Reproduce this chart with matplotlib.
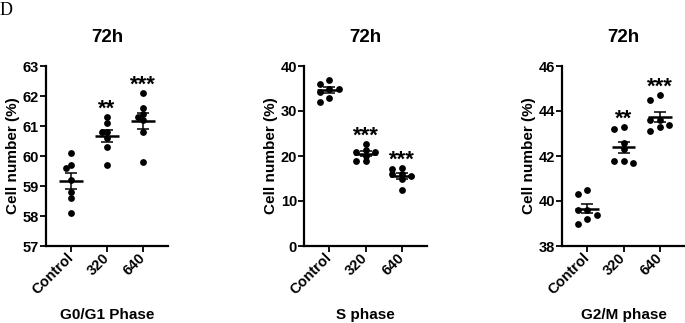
import numpy as np
import matplotlib
matplotlib.use("Agg")
import matplotlib.pyplot as plt

plt.rcParams['font.family'] = ['Liberation Sans', 'DejaVu Sans']

groups = ['Control', '320', '640']
g1_vals = [[60.1, 59.7, 59.6, 59.2, 58.8, 58.6, 58.1],
           [61.3, 61.1, 60.8, 60.8, 60.6, 60.3, 59.7],
           [62.1, 61.6, 61.4, 61.3, 61.2, 60.8, 59.8]]
s_vals = [[36.9, 36.0, 35.0, 35.0, 34.2, 33.0, 32.1],
          [22.6, 21.4, 21.0, 20.8, 20.0, 19.0, 18.8],
          [17.4, 17.1, 16.0, 15.9, 15.5, 14.8, 12.5]]
g2m_vals = [[40.5, 40.3, 39.6, 39.6, 39.4, 39.2, 39.0],
            [43.3, 43.2, 42.6, 42.3, 41.8, 41.8, 41.7],
            [44.7, 44.5, 43.6, 43.6, 43.4, 43.3, 43.1]]
phase_labels = ['G0/G1 Phase', 'S phase', 'G2/M phase']
y_ranges = [(57, 63), (0, 40), (38, 46)]
y_steps = [1, 10, 2]
stars = [['', '**', '***'], ['', '***', '***'], ['', '**', '***']]
title = '72h'

W, H = 685, 323
fig = plt.figure(figsize=(W / 100, H / 100), dpi=100)

# axes boxes in pixels: left, top, width, height
boxes = [(46, 66, 122, 180), (304, 66, 123, 180), (562, 66, 123, 180)]
col_steps = [0.15, 0.26, 0.26]


def swarm(vals, ax, step, dot_px=5.0):
    # greedy column placement, points that would touch move sideways
    y_px = ax.transData.transform(np.column_stack([np.zeros(len(vals)), vals]))[:, 1]
    order = np.argsort(-np.asarray(vals))
    cols = np.zeros(len(vals))
    placed = []
    for i in order:
        for c in [0, -1, 1, -2, 2, -3, 3]:
            if all(not (pc == c and abs(py - y_px[i]) < dot_px) for pc, py in placed):
                cols[i] = c
                placed.append((c, y_px[i]))
                break
    return cols * step


all_vals = [g1_vals, s_vals, g2m_vals]
for k, data in enumerate(all_vals):
    l, t, w, h = boxes[k]
    ax = fig.add_axes([l / W, (H - t - h) / H, w / W, h / H])
    y0, y1 = y_ranges[k]
    ax.set_xlim(-0.7, 2.7)
    ax.set_ylim(y0, y1)
    ax.set_yticks(np.arange(y0, y1 + 0.01, y_steps[k]))
    ax.set_xticks(range(len(groups)))
    ax.set_xticklabels(groups, rotation=45, ha='right', va='center',
                       rotation_mode='anchor', fontsize=10.5, fontweight='bold')
    for lab in ax.get_yticklabels():
        lab.set_fontsize(10.5)
        lab.set_fontweight('bold')
    for sp in ['top', 'right']:
        ax.spines[sp].set_visible(False)
    for sp in ['left', 'bottom']:
        ax.spines[sp].set_linewidth(1.6)
    ax.tick_params(axis='both', length=4, width=1.3, pad=1, color='black')
    ax.tick_params(axis='x', pad=3)

    for i, vals in enumerate(data):
        v = np.array(vals)
        m = v.mean()
        sem = v.std(ddof=1) / np.sqrt(len(v))
        xs = i + swarm(vals, ax, col_steps[k])
        ax.scatter(xs, v, s=24, color='black', zorder=3, linewidths=0)
        ax.hlines(m, i - 0.33, i + 0.33, color='black', lw=1.8, zorder=4)
        ax.errorbar(i, m, yerr=sem, fmt='none', ecolor='black', elinewidth=1.1,
                    capsize=4.5, capthick=1.1, zorder=4)
        if stars[k][i]:
            ty = v.max() + 0.085 * (y1 - y0)
            ax.annotate(stars[k][i], (i, ty), xytext=(0, -9.5), textcoords='offset points',
                        ha='center', va='baseline', fontsize=16, fontweight='bold')

    ax.set_ylabel('Cell number (%)', fontsize=11, fontweight='bold')
    ax.yaxis.set_label_coords(-0.215, 0.5)
    ax.text(0.5, 1 + 24 / h, title, transform=ax.transAxes, ha='center', va='baseline',
            fontsize=13.5, fontweight='bold')
    ax.text(0.5, -(315 - t - h) / h, phase_labels[k], transform=ax.transAxes,
            ha='center', va='center', fontsize=11, fontweight='bold')

fig.text(0.0, 1 - 2 / H, 'D', family='Liberation Serif', fontsize=13, ha='left', va='top')

fig.savefig('out.png', dpi=100)
